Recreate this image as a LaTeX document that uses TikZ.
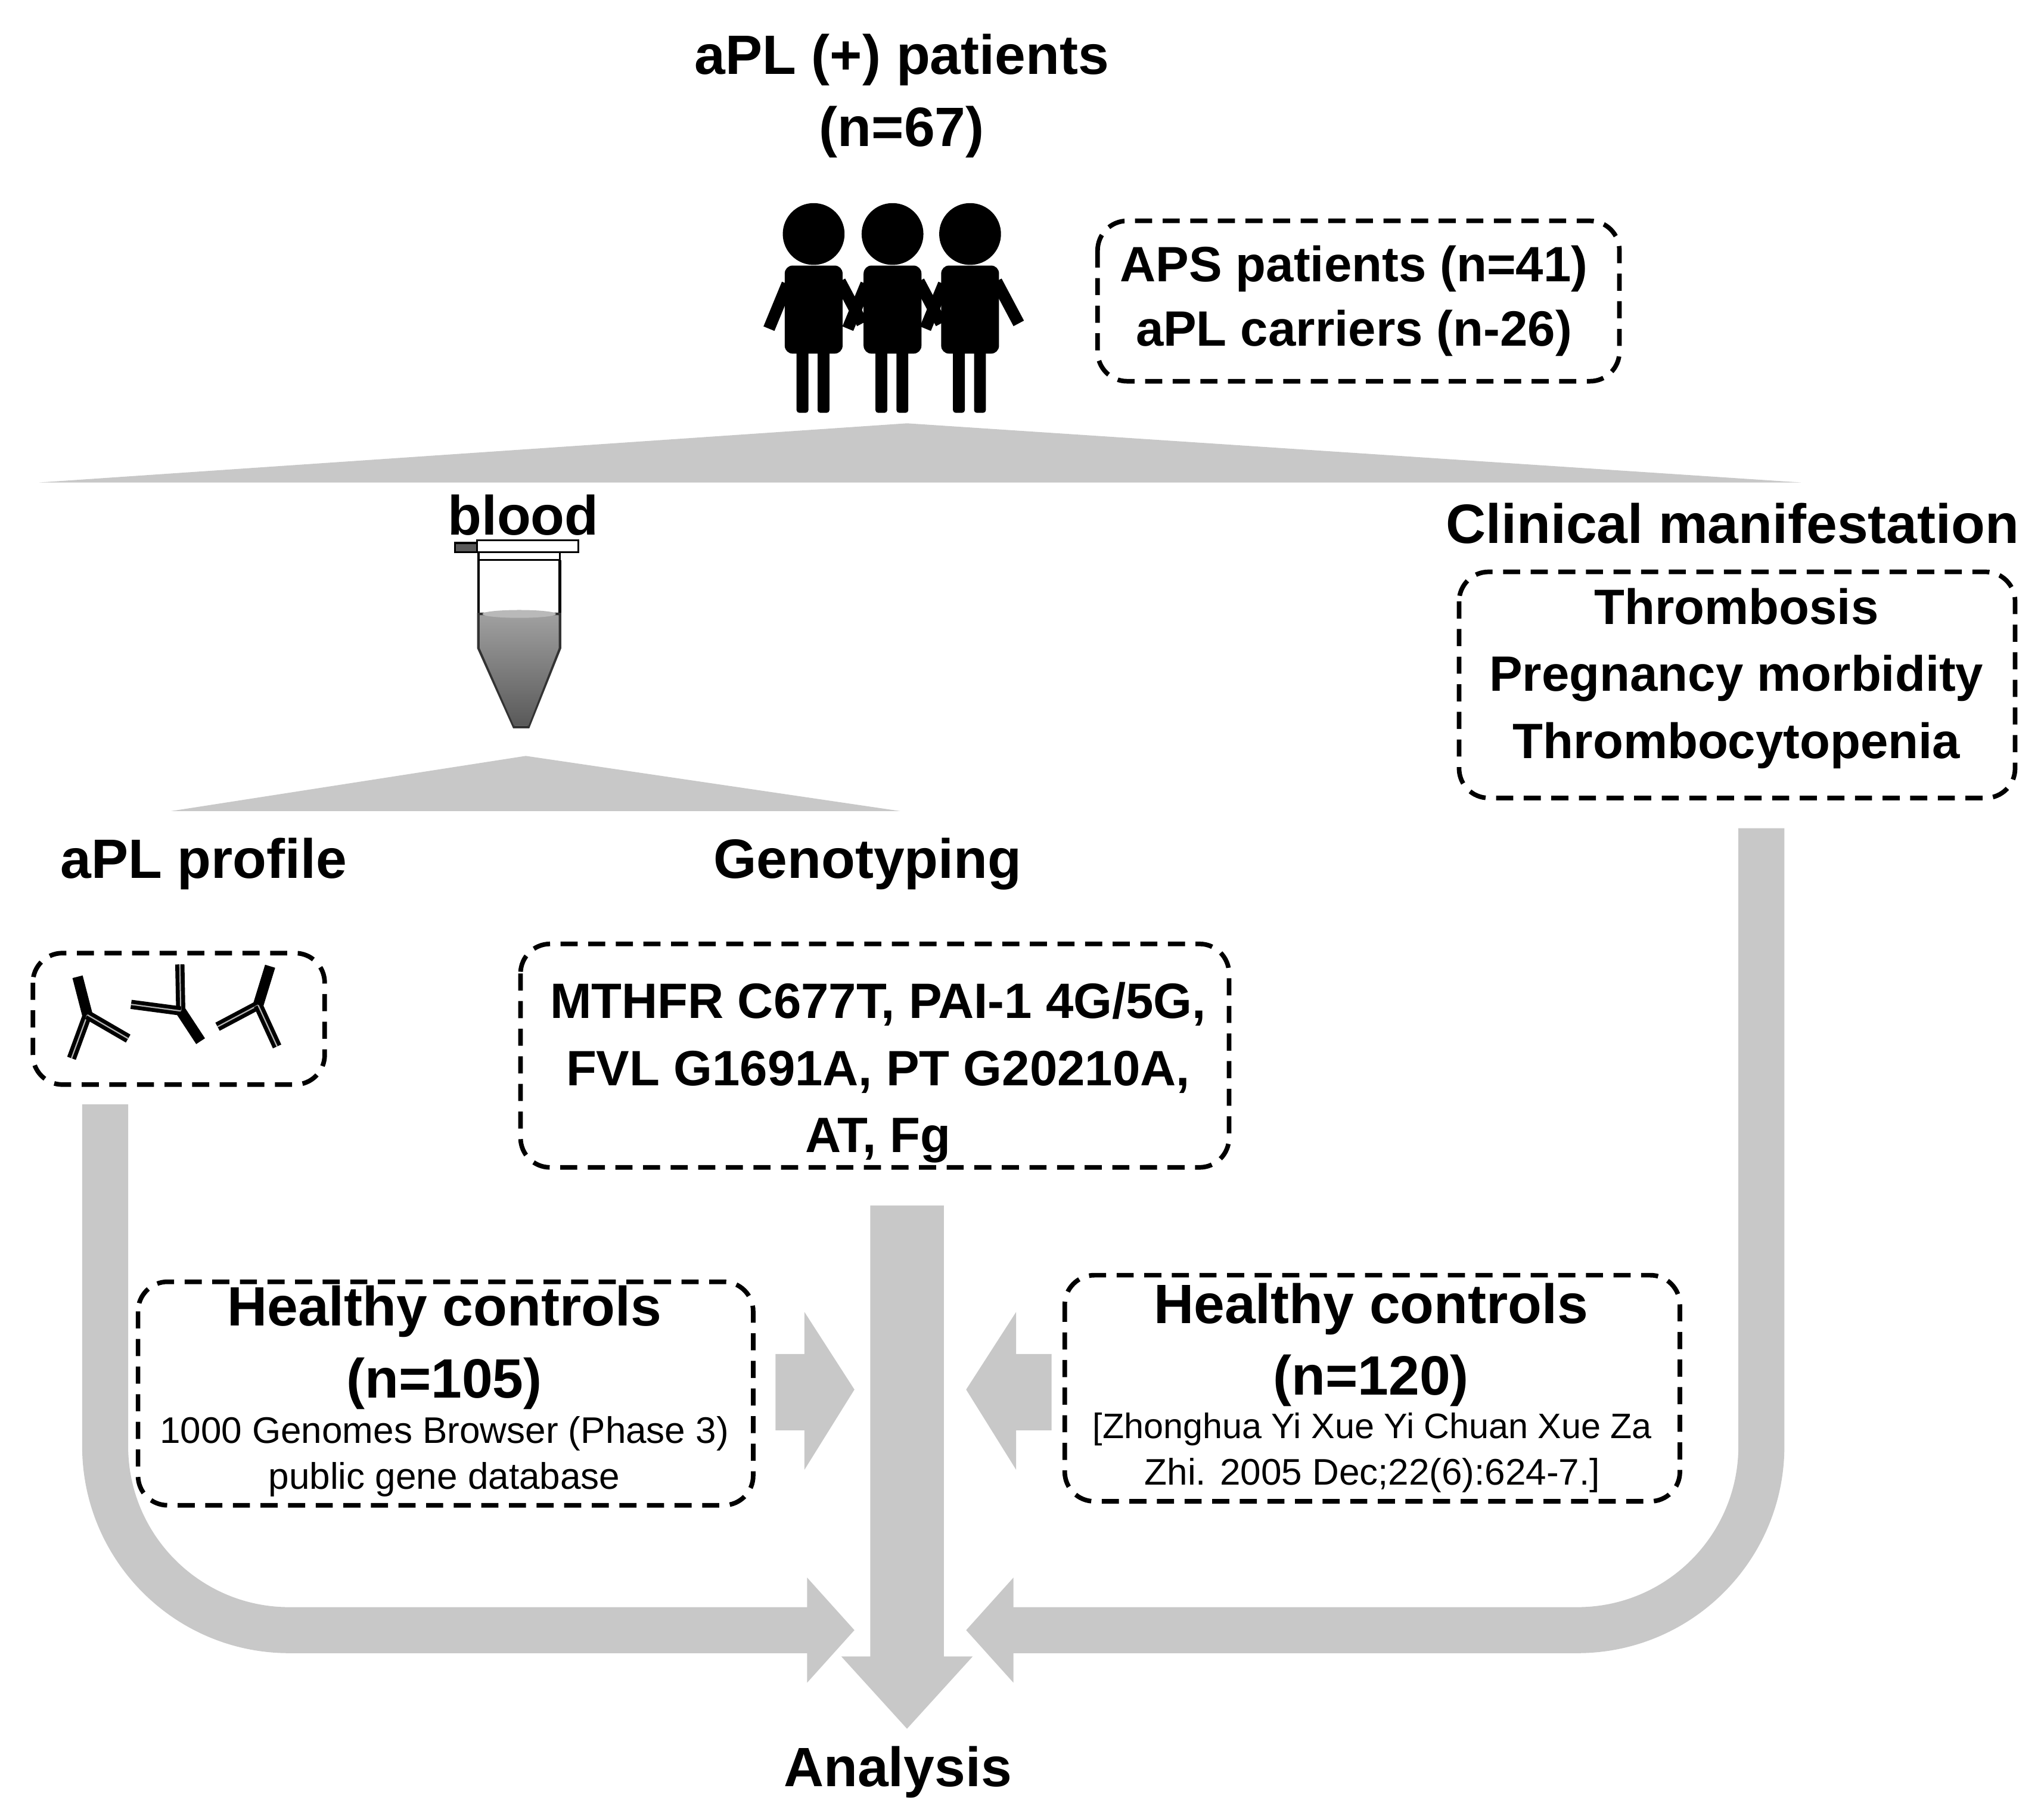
\documentclass[tikz,border=0pt]{standalone}
\usepackage{fontspec}
\setmainfont{Liberation Sans}
\begin{document}
\begin{tikzpicture}[x=0.2mm,y=-0.2mm,
  big/.style={font=\fontsize{24}{28}\selectfont\bfseries,inner sep=0pt,align=center},
  mid/.style={font=\fontsize{21.5}{26}\selectfont\bfseries,inner sep=0pt,align=center},
  small/.style={font=\fontsize{16}{19}\selectfont,inner sep=0pt,align=center},
  dbox/.style={draw=black,line width=0.7mm,dash pattern=on 2.6mm off 1.6mm,rounded corners=4.5mm},
  ab/.style={line width=1.6mm,black},
  arm/.style={double=gray!60,double distance=0.2mm,line width=0.6mm,black}
]
\definecolor{arrgray}{RGB}{200,200,200}
\useasboundingbox (0,0) rectangle (1555,1379);

% title
\node[big] (title) at (686,73) {aPL (+) patients\\[3pt](n=67)};

% people
\foreach \cx in {619,679,738}{
  \fill (\cx,178) circle (23.5);
  \fill[rounded corners=1.2mm] (\cx-22,202) rectangle (\cx+22,269);
  \draw[line width=1.8mm] (\cx-20,216) -- (\cx-34,250);
  \draw[line width=1.8mm] (\cx+20,214) -- (\cx+37,246);
  \fill[rounded corners=0.4mm] (\cx-13,265) rectangle (\cx-4,314);
  \fill[rounded corners=0.4mm] (\cx+3,265) rectangle (\cx+12,314);
}
\node[mid] (aps) at (1030,229) {APS patients (n=41)\\[2pt]aPL carriers (n-26)};
\draw[dbox] (835,168) rectangle (1232,290);

% top split
\fill[arrgray] (690,322) -- (1370,367) -- (30,367) -- cycle;
\node[big] (blood) at (398,392) {blood};
\node[big] (clin) at (1318,398) {Clinical manifestation};

% tube
\draw[fill=gray!70!black,line width=0.3mm] (346,413) rectangle (363,420);
\draw[fill=white,line width=0.3mm] (363,411) rectangle (440,420);
\draw[fill=white,line width=0.3mm] (364,420) rectangle (426,426);
\draw[line width=0.4mm] (364,426) -- (364,467);
\draw[line width=0.4mm] (426,426) -- (426,467);
\shade[top color=gray!75,bottom color=gray!150!black,draw=black!80,line width=0.4mm]
  (364,467) -- (364,493) -- (391,553) -- (402,553) -- (426,493) -- (426,467) -- cycle;
\shade[top color=gray!75,bottom color=black!65,draw=none]
  (365,468) -- (365,493) -- (391,552) -- (402,552) -- (425,493) -- (425,468) -- cycle;
\fill[gray!55] (395,467) ellipse (28 and 3);

\fill[arrgray] (400,575) -- (685,617) -- (130,617) -- cycle;
\node[big] (prof) at (155,657) {aPL profile};
\node[big] (geno) at (660,657) {Genotyping};

% clinical box
\node[mid] (clinbox) at (1321,516) {Thrombosis\\[3pt]Pregnancy morbidity\\[3pt]Thrombocytopenia};
\draw[dbox] (1110,435) rectangle (1533,607);

% antibodies
\draw[dbox] (25,725) rectangle (247,825);
\draw[ab] (66.5,772) -- (59,743);
\draw[arm] (66.5,772) -- (54.4,805);
\draw[arm] (66.5,772) -- (97.5,790);
\draw[ab] (137.5,769) -- (152.6,792);
\draw[arm] (137.5,769) -- (136.8,733.6);
\draw[arm] (137.5,769) -- (99.7,764);
\draw[ab] (196.4,764.6) -- (205.5,735);
\draw[arm] (196.4,764.6) -- (165.5,781);
\draw[arm] (196.4,764.6) -- (210.8,796);

% genotyping box
\node[mid] (genobox) at (668,816) {MTHFR C677T, PAI-1 4G/5G,\\[3pt]FVL G1691A, PT G20210A,\\[3pt]AT, Fg};
\draw[dbox] (396,718) rectangle (935,888);

% gray arrows
\fill[arrgray] (662,917) -- (718,917) -- (718,1260) -- (740,1260) -- (690,1315) -- (640,1260) -- (662,1260) -- cycle;
\fill[arrgray] (590,1030) -- (612,1030) -- (612,998) -- (650,1057) -- (612,1118) -- (612,1088) -- (590,1088) -- cycle;
\fill[arrgray] (800,1030) -- (773,1030) -- (773,998) -- (735,1057) -- (773,1118) -- (773,1088) -- (800,1088) -- cycle;
\draw[arrgray,line width=7mm] (80,840) -- (80,1100) arc (180:90:140) -- (616,1240);
\fill[arrgray] (614,1200) -- (650,1240) -- (614,1280) -- cycle;
\draw[arrgray,line width=7mm] (1340,630) -- (1340,1100) arc (0:90:140) -- (769,1240);
\fill[arrgray] (771,1200) -- (735,1240) -- (771,1280) -- cycle;

% healthy controls
\node[big] (hc1) at (338,1025) {Healthy controls\\[3pt](n=105)};
\node[small] (hc1s) at (338,1108) {1000 Genomes Browser (Phase 3)\\[1pt]public gene database};
\draw[dbox] (105,975) rectangle (573,1145);
\node[big] (hc2) at (1043,1023) {Healthy controls\\[3pt](n=120)};
\node[small] (hc2s) at (1044,1105) {\fontsize{15.3}{19}\selectfont[Zhonghua Yi Xue Yi Chuan Xue Za\\[1pt]Zhi. 2005 Dec;22(6):624-7.]};
\draw[dbox] (810,970) rectangle (1278,1142);

\node[big] (ana) at (683,1348) {Analysis};
\end{tikzpicture}
\end{document}
